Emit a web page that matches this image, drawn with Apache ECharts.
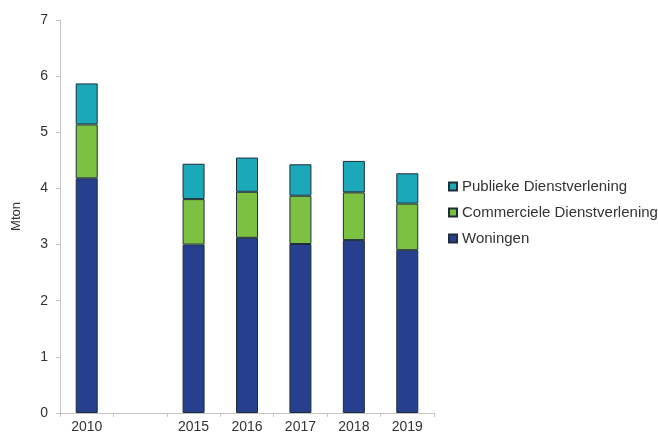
<!DOCTYPE html>
<html>
<head>
<meta charset="utf-8">
<script src="https://cdn.jsdelivr.net/npm/echarts@6/dist/echarts.min.js"></script>
<style>
  html, body { margin: 0; padding: 0; background: #fff; }
  #chart { width: 658px; height: 434px; }
</style>
</head>
<body>
<div id="chart"></div>
<script>
// jaren (lege categorie tussen 2010 en 2015)
var jaren = ['2010', '', '2015', '2016', '2017', '2018', '2019'];
var woningen = [4.18, null, 3.00, 3.12, 3.01, 3.08, 2.90];
var commercieel = [0.96, null, 0.81, 0.82, 0.86, 0.85, 0.83];
var publiek = [0.73, null, 0.63, 0.61, 0.56, 0.56, 0.54];
var yTicks = [0, 1, 2, 3, 4, 5, 6, 7];

var myChart = echarts.init(document.getElementById('chart'));

var barStyle = function (kleur) {
    return { color: kleur, borderColor: '#1f2f3a', borderWidth: 1 };
};

var option = {
    animation: false,
    grid: { left: 60, right: 224, top: 20, bottom: 21 },
    legend: {
        data: ['Publieke Dienstverlening', 'Commerciele Dienstverlening', 'Woningen'],
        orient: 'vertical',
        left: 443,
        top: 174,
        itemWidth: 8,
        itemHeight: 8,
        itemGap: 11,
        icon: 'rect',
        textStyle: { fontFamily: 'Liberation Sans', fontSize: 15, color: '#333' }
    },
    xAxis: {
        type: 'category',
        data: jaren,
        axisLine: { lineStyle: { color: '#c4c4c4' } },
        axisTick: { show: true, length: 4, lineStyle: { color: '#c4c4c4' } },
        axisLabel: { fontFamily: 'Liberation Sans', fontSize: 14, color: '#333', margin: 7 }
    },
    yAxis: {
        type: 'value',
        min: yTicks[0],
        max: yTicks[yTicks.length - 1],
        interval: 1,
        name: 'Mton',
        nameLocation: 'middle',
        nameRotate: 90,
        nameGap: 37,
        nameTextStyle: { fontFamily: 'Liberation Sans', fontSize: 13, color: '#333' },
        splitLine: { show: false },
        axisLine: { show: true, lineStyle: { color: '#c4c4c4' } },
        axisTick: { show: true, length: 4, lineStyle: { color: '#c4c4c4' } },
        axisLabel: { fontFamily: 'Liberation Sans', fontSize: 14, color: '#333', margin: 12 }
    },
    series: [
        {
            name: 'Woningen',
            type: 'bar',
            stack: 'totaal',
            barWidth: 22,
            data: woningen,
            itemStyle: barStyle('#263f8f')
        },
        {
            name: 'Commerciele Dienstverlening',
            type: 'bar',
            stack: 'totaal',
            barWidth: 22,
            data: commercieel,
            itemStyle: barStyle('#7cc142')
        },
        {
            name: 'Publieke Dienstverlening',
            type: 'bar',
            stack: 'totaal',
            barWidth: 22,
            data: publiek,
            itemStyle: barStyle('#1ba8b8')
        }
    ]
};

myChart.setOption(option);
</script>
</body>
</html>
